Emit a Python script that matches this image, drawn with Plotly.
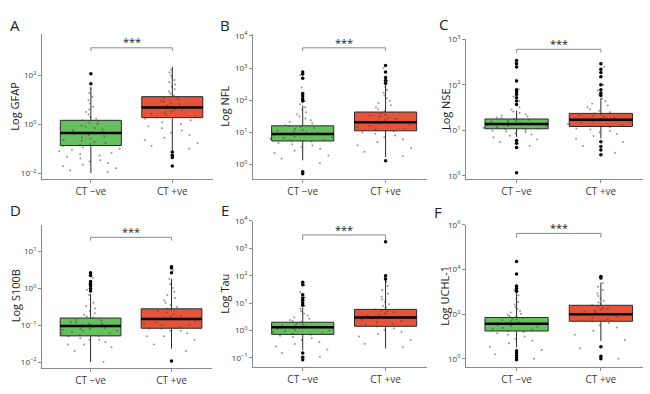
import plotly.graph_objects as go

CATS = ["CT −ve", "CT +ve"]
PANEL_LABELS = ["A", "B", "C", "D", "E", "F"]
Y_TITLES = ["Log GFAP", "Log NFL", "Log NSE", "Log S100B", "Log Tau", "Log UCHL-1"]

# ---- box statistics (CT -ve, CT +ve) ----
GFAP_Q1 = [0.135, 1.86]; GFAP_MED = [0.44, 4.9]; GFAP_Q3 = [1.45, 13.5]
GFAP_LO = [0.01, 0.085]; GFAP_HI = [34, 229]
NFL_Q1 = [5.4, 11.2]; NFL_MED = [8.9, 20.5]; NFL_Q3 = [16, 43]
NFL_LO = [1.35, 1.7]; NFL_HI = [68, 302]
NSE_Q1 = [10.8, 12.1]; NSE_MED = [13.8, 17]; NSE_Q3 = [17.7, 23.5]
NSE_LO = [7.2, 6.6]; NSE_HI = [27, 51]
S100B_Q1 = [0.051, 0.082]; S100B_MED = [0.094, 0.147]; S100B_Q3 = [0.155, 0.275]
S100B_LO = [0.01, 0.023]; S100B_HI = [0.7, 1.8]
TAU_Q1 = [0.72, 1.42]; TAU_MED = [1.3, 3.0]; TAU_Q3 = [2.0, 5.9]
TAU_LO = [0.19, 0.22]; TAU_HI = [6.8, 80]
UCHL_Q1 = [17.5, 48]; UCHL_MED = [37, 100]; UCHL_Q3 = [71, 250]
UCHL_LO = [3.2, 6.3]; UCHL_HI = [1000, 2570]

# ---- outliers ----
GFAP_OUT_NEG = [117, 46]
GFAP_OUT_POS = [0.074, 0.054, 0.044, 0.0196]
NFL_OUT_NEG = [0.6, 0.52, 162, 135, 112, 95, 760, 650, 480]
NFL_OUT_POS = [1200, 760, 510, 410, 340, 1.3]
NSE_OUT_NEG = [340, 290, 245, 121, 78, 69, 61, 52, 44, 37, 6.0, 5.2, 4.2, 1.17]
NSE_OUT_POS = [290, 220, 185, 150, 100, 78, 66, 58, 5.6, 4.4, 3.7, 2.9]
S100B_OUT_NEG = [2.6, 2.2, 1.5, 1.3, 1.15, 0.98, 0.83]
S100B_OUT_POS = [3.8, 3.5, 2.6, 0.0107]
TAU_OUT_NEG = [58, 47, 20, 15.5, 12.6, 10.2, 8.3, 0.15, 0.105, 0.085]
TAU_OUT_POS = [1750, 100, 76]
UCHL_OUT_NEG = [23000, 6300, 1820, 1410, 1070, 2.3, 1.8, 1.4, 1.1, 0.9]
UCHL_OUT_POS = [4900, 4200, 3.5, 1.3, 1.0]

GFAP_PTS_NEG = [0.011, 0.013, 0.016, 0.019, 0.022, 0.026, 0.03, 0.034, 0.04, 0.046, 0.053,
                0.06, 0.068, 0.078, 0.09, 0.1, 0.115, 0.13, 0.14, 0.155, 0.17, 0.19, 0.21,
                0.23, 0.26, 0.29, 0.32, 0.36, 0.4, 0.44, 0.49, 0.55, 0.62, 0.7, 0.8, 0.9, 1.0,
                1.15, 1.3, 1.45, 1.7, 2.0, 2.5, 3.2, 4.0, 5.2, 7, 9.5, 13, 19, 28]
GFAP_PTS_POS = [0.1, 0.13, 0.17, 0.22, 0.28, 0.36, 0.45, 0.55, 0.68, 0.82, 1.0, 1.2, 1.45,
                1.7, 1.9, 2.1, 2.4, 2.7, 3.0, 3.3, 3.7, 4.1, 4.5, 4.9, 5.4, 6.0, 6.7, 7.5, 8.4,
                9.4, 10.5, 11.8, 13.2, 15, 18, 22, 27, 34, 42, 52, 65, 80, 100, 130, 170]
NFL_PTS_NEG = [1.1, 1.5, 1.9, 2.3, 2.7, 3.1, 3.5, 3.9, 4.3, 4.7, 5.1, 5.5, 5.9, 6.3, 6.7, 7.1,
               7.5, 8.0, 8.5, 9.0, 9.5, 10, 10.6, 11.2, 11.9, 12.7, 13.6, 14.6, 15.8, 17, 19,
               21, 24, 27, 31, 36, 42, 50, 60, 75, 95, 130, 250, 600]
NFL_PTS_POS = [1.8, 2.5, 3.2, 4, 5, 6, 7, 8, 9, 10, 11, 12, 13, 14.5, 16, 17.5, 19, 20.5, 22,
               24, 26, 28, 30.5, 33, 36, 39, 42, 46, 52, 60, 70, 82, 96, 115, 140, 170, 210,
               260, 400, 1000]
NSE_PTS_NEG = [4.5, 5.5, 6.3, 7, 7.6, 8.1, 8.6, 9.0, 9.4, 9.8, 10.2, 10.6, 11.0, 11.4, 11.8,
               12.2, 12.6, 13.0, 13.4, 13.8, 14.2, 14.6, 15.0, 15.5, 16.0, 16.5, 17.0, 17.6,
               18.3, 19, 20, 21, 22.5, 24, 26, 28.5, 32, 37, 44, 55, 80, 130, 300]
NSE_PTS_POS = [3.2, 4.5, 5.5, 6.5, 7.5, 8.3, 9, 9.7, 10.4, 11, 11.7, 12.3, 13, 13.7, 14.4,
               15.1, 15.8, 16.5, 17.2, 18, 18.8, 19.6, 20.5, 21.5, 22.5, 23.6, 25, 27, 29, 32,
               35, 39, 44, 50, 60, 75, 100, 150, 250]
S100B_PTS_NEG = [0.01, 0.02, 0.025, 0.03, 0.03, 0.035, 0.04, 0.04, 0.045, 0.05, 0.05, 0.055,
                 0.06, 0.06, 0.065, 0.07, 0.07, 0.075, 0.08, 0.08, 0.085, 0.09, 0.09, 0.095,
                 0.1, 0.1, 0.11, 0.11, 0.12, 0.12, 0.13, 0.14, 0.15, 0.16, 0.17, 0.19, 0.21,
                 0.24, 0.28, 0.33, 0.4, 0.5, 0.65, 0.9, 1.3, 1.9]
S100B_PTS_POS = [0.02, 0.03, 0.04, 0.05, 0.05, 0.06, 0.07, 0.07, 0.08, 0.08, 0.09, 0.1, 0.1,
                 0.11, 0.12, 0.13, 0.14, 0.15, 0.16, 0.17, 0.18, 0.2, 0.22, 0.24, 0.26, 0.28,
                 0.31, 0.35, 0.4, 0.46, 0.54, 0.65, 0.8, 1.0, 1.3, 1.8, 3.0]
TAU_PTS_NEG = [0.11, 0.15, 0.2, 0.26, 0.32, 0.38, 0.45, 0.52, 0.58, 0.64, 0.7, 0.76, 0.82,
               0.88, 0.94, 1.0, 1.07, 1.14, 1.21, 1.28, 1.35, 1.43, 1.51, 1.6, 1.7, 1.8, 1.92,
               2.05, 2.2, 2.4, 2.7, 3.0, 3.5, 4.1, 5, 6.2, 8, 11, 16, 25, 45]
TAU_PTS_POS = [0.25, 0.33, 0.45, 0.6, 0.75, 0.9, 1.05, 1.2, 1.4, 1.6, 1.8, 2.0, 2.2, 2.45,
               2.7, 2.95, 3.2, 3.5, 3.8, 4.2, 4.6, 5.0, 5.5, 6.0, 6.8, 7.8, 9, 11, 13.5, 17,
               22, 30, 42, 60, 85]
UCHL_PTS_NEG = [1.0, 1.6, 2.5, 3.5, 5, 6.5, 8, 10, 12, 14, 16, 18, 20, 22, 24.5, 27, 29.5,
                32, 35, 38, 41, 45, 49, 53, 58, 63, 68, 74, 82, 92, 105, 120, 140, 170, 210,
                270, 350, 480, 700, 1200]
UCHL_PTS_POS = [1.0, 3, 7, 12, 18, 25, 32, 40, 47, 54, 61, 69, 77, 86, 95, 105, 116, 128,
                142, 158, 176, 196, 220, 248, 280, 330, 400, 500, 650, 850, 1200, 1700, 2500,
                4000]

# ---- y tick exponents per panel ----
GFAP_TICKS = [-2, 0, 2]
NFL_TICKS = [0, 1, 2, 3, 4]
NSE_TICKS = [0, 1, 2, 3]
S100B_TICKS = [-2, -1, 0, 1]
TAU_TICKS = [-1, 0, 1, 2, 3, 4]
UCHL_TICKS = [0, 2, 4, 6]

panels = [
    (GFAP_Q1, GFAP_MED, GFAP_Q3, GFAP_LO, GFAP_HI, GFAP_OUT_NEG, GFAP_OUT_POS, GFAP_PTS_NEG, GFAP_PTS_POS, GFAP_TICKS),
    (NFL_Q1, NFL_MED, NFL_Q3, NFL_LO, NFL_HI, NFL_OUT_NEG, NFL_OUT_POS, NFL_PTS_NEG, NFL_PTS_POS, NFL_TICKS),
    (NSE_Q1, NSE_MED, NSE_Q3, NSE_LO, NSE_HI, NSE_OUT_NEG, NSE_OUT_POS, NSE_PTS_NEG, NSE_PTS_POS, NSE_TICKS),
    (S100B_Q1, S100B_MED, S100B_Q3, S100B_LO, S100B_HI, S100B_OUT_NEG, S100B_OUT_POS, S100B_PTS_NEG, S100B_PTS_POS, S100B_TICKS),
    (TAU_Q1, TAU_MED, TAU_Q3, TAU_LO, TAU_HI, TAU_OUT_NEG, TAU_OUT_POS, TAU_PTS_NEG, TAU_PTS_POS, TAU_TICKS),
    (UCHL_Q1, UCHL_MED, UCHL_Q3, UCHL_LO, UCHL_HI, UCHL_OUT_NEG, UCHL_OUT_POS, UCHL_PTS_NEG, UCHL_PTS_POS, UCHL_TICKS),
]

# ---- layout geometry (pixels in a 650x394 canvas) ----
W, H = 650, 394
X_PIX = [(42, 213), (253, 427), (466, 643), (42, 212), (253, 427), (466, 643)]
Y_PIX = [(28, 176), (28, 176), (33, 176), (223, 369), (219, 368), (223, 368)]
Y_RANGES = [(-2.24, 3.68), (-0.45, 4.05), (-0.07, 3.0), (-2.15, 1.71), (-1.32, 4.0), (-0.35, 6.0)]
BRACKET = [(0.907, 0.885, 0.953), (0.907, 0.885, 0.945), (0.928, 0.904, 0.972),
           (0.913, 0.890, 0.955), (0.904, 0.870, 0.940), (0.940, 0.910, 0.980)]
LABEL_POS = [(15, 18), (225, 18), (443, 17), (15, 208), (225, 208), (438, 210)]
YTITLE_X = [15, 225, 445, 15, 225, 445]

FILLS = ["#66c05f", "#e5533a"]
EDGE = "#2b2b2b"
AXC = "#8a8a8a"
TXT = "#3a3a3a"
FONT = "Open Sans"

fig = go.Figure()
layout = dict(width=W, height=H, margin=dict(l=0, r=0, t=0, b=0),
              plot_bgcolor="white", paper_bgcolor="white", showlegend=False,
              boxmode="overlay", font=dict(family=FONT, color=TXT, size=10))
shapes, annotations = [], []

for i, (q1, med, q3, lo, hi, oneg, opos, pneg, ppos, ticks) in enumerate(panels):
    n = i + 1
    xa, ya = ("x" if n == 1 else f"x{n}"), ("y" if n == 1 else f"y{n}")
    xk, yk = ("xaxis" if n == 1 else f"xaxis{n}"), ("yaxis" if n == 1 else f"yaxis{n}")
    x0p, x1p = X_PIX[i]
    y0p, y1p = Y_PIX[i]
    layout[xk] = dict(domain=[x0p / W, x1p / W], anchor=ya, type="category",
                      categoryorder="array", categoryarray=CATS, range=[-0.6, 1.5],
                      showline=True, linecolor=AXC, linewidth=1, ticks="outside",
                      ticklen=3, tickcolor=AXC, showgrid=False, zeroline=False,
                      tickfont=dict(size=10, color=TXT, family=FONT), fixedrange=True)
    layout[yk] = dict(domain=[1 - y1p / H, 1 - y0p / H], anchor=xa, type="log",
                      range=list(Y_RANGES[i]), showline=True, linecolor=AXC, linewidth=1,
                      ticks="outside", ticklen=3, tickcolor=AXC, showgrid=False,
                      zeroline=False, tickmode="array",
                      tickvals=[10.0 ** t for t in ticks],
                      ticktext=[f"10<sup>{'−' if t < 0 else ''}{abs(t)}</sup>" for t in ticks],
                      tickfont=dict(size=8, color=TXT, family=FONT), fixedrange=True)

    for j, cat in enumerate(CATS):
        pts = [pneg, ppos][j]
        outs = [oneg, opos][j]
        fig.add_trace(go.Box(x=[cat], q1=[q1[j]], median=[med[j]], q3=[q3[j]],
                             lowerfence=[lo[j]], upperfence=[hi[j]], width=0.75,
                             whiskerwidth=0, fillcolor=FILLS[j],
                             line=dict(color=EDGE, width=1), boxpoints=False,
                             xaxis=xa, yaxis=ya, hoverinfo="skip"))
        fig.add_trace(go.Box(x=[cat] * len(pts), y=pts, width=0.8,
                             boxpoints="all", jitter=1, pointpos=0,
                             fillcolor="rgba(0,0,0,0)", line=dict(color="rgba(0,0,0,0)", width=0),
                             marker=dict(color="rgba(60,60,60,0.55)", size=2),
                             xaxis=xa, yaxis=ya, hoverinfo="skip"))
        fig.add_trace(go.Box(x=[cat], q1=[med[j]], median=[med[j]], q3=[med[j]],
                             lowerfence=[med[j]], upperfence=[med[j]], width=0.75,
                             whiskerwidth=0, fillcolor="rgba(0,0,0,0)",
                             line=dict(color="black", width=2.5), boxpoints=False,
                             xaxis=xa, yaxis=ya, hoverinfo="skip"))
        fig.add_trace(go.Scatter(x=[cat] * len(outs), y=outs, mode="markers",
                                 marker=dict(color="black", size=3.5),
                                 xaxis=xa, yaxis=ya, hoverinfo="skip"))

    yb, yd, ys = BRACKET[i]
    yref = f"{ya} domain"
    for (ax0, ay0, ax1, ay1) in [(0, yd, 0, yb), (0, yb, 1, yb), (1, yb, 1, yd)]:
        shapes.append(dict(type="line", xref=xa, yref=yref, x0=ax0, y0=ay0, x1=ax1, y1=ay1,
                           line=dict(color=AXC, width=1)))
    annotations.append(dict(text="***", xref=xa, yref=yref, x=0.5, y=ys, showarrow=False,
                            font=dict(size=11, color="#222222", family=FONT), yanchor="middle"))
    lx, ly = LABEL_POS[i]
    annotations.append(dict(text=PANEL_LABELS[i], xref="paper", yref="paper", x=lx / W,
                            y=1 - ly / H, showarrow=False, xanchor="center", yanchor="middle",
                            font=dict(size=15, color="#222222", family=FONT)))
    annotations.append(dict(text=Y_TITLES[i], xref="paper", yref=yref, x=YTITLE_X[i] / W,
                            y=0.5, showarrow=False, textangle=-90, xanchor="center",
                            yanchor="middle", font=dict(size=11, color="#222222", family=FONT)))

layout["shapes"] = shapes
layout["annotations"] = annotations
fig.update_layout(**layout)
fig.write_html("out.html", config={"displayModeBar": False},
               post_script="document.body.style.margin='0';")
